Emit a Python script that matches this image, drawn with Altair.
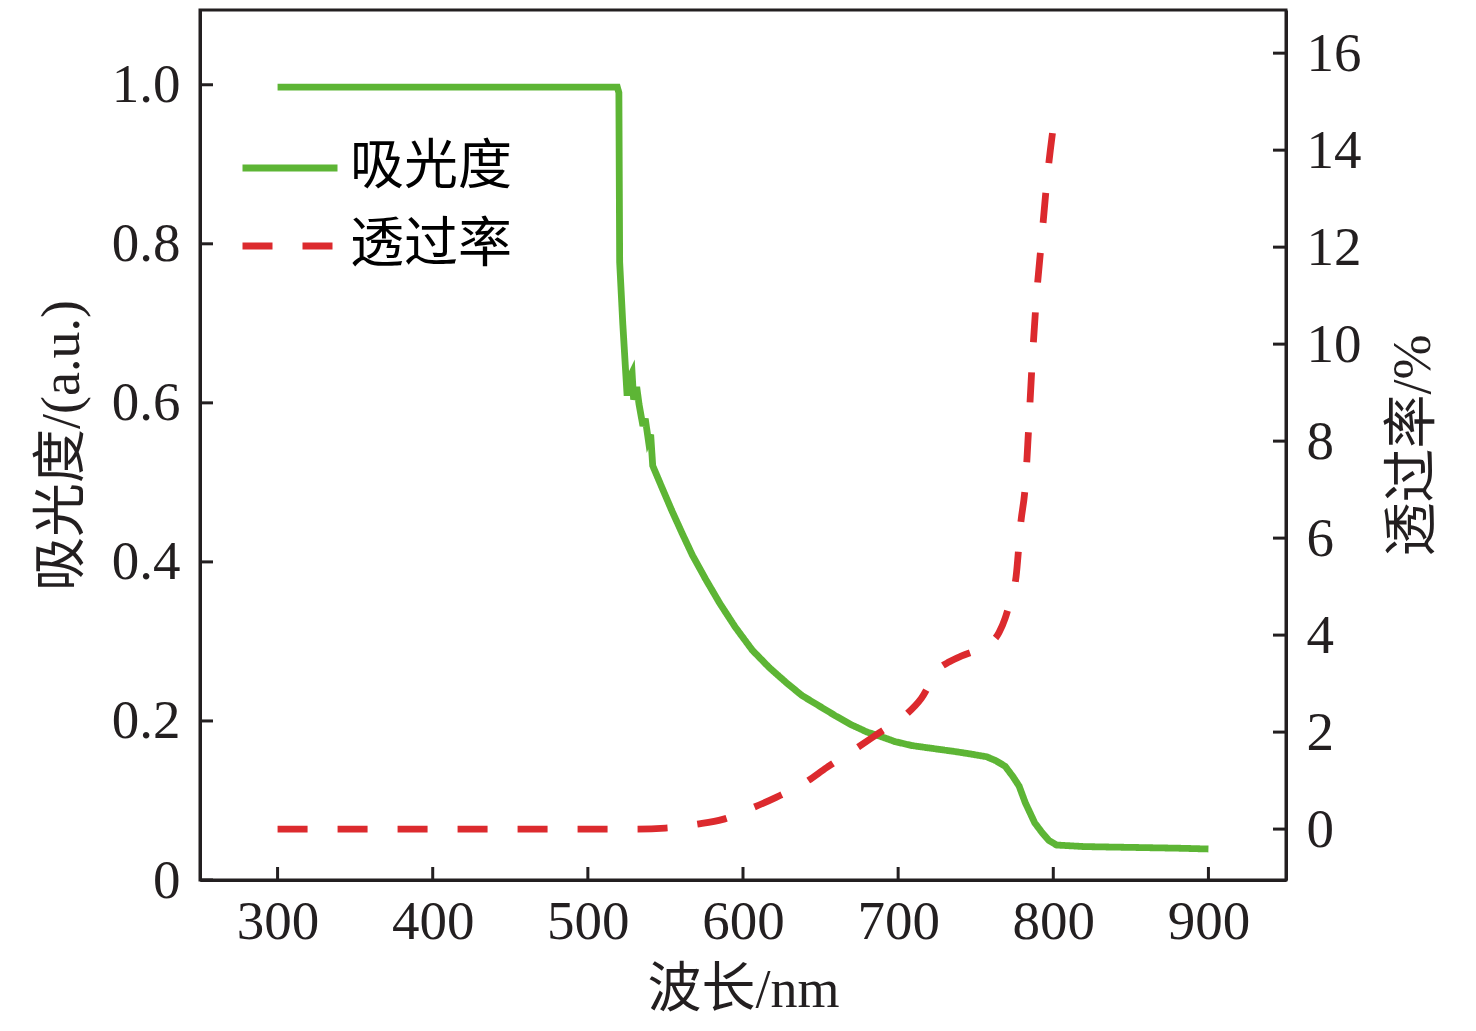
import altair as alt
import pandas as pd

# ---------------- data ----------------
wl_abs = [300, 519, 520, 520.5, 522.5, 525.3, 526.5, 528.5, 529.5, 531.5,
          533, 535.5, 537, 539, 540.5, 541.8, 547, 554, 561, 567.5,
          576, 585, 595, 606, 617, 628, 638, 649, 660, 670,
          680, 688, 698, 709, 720, 735, 745, 757, 763, 769,
          774, 778, 782, 788, 793, 797, 802, 820, 850, 880, 900]
absorbance = [0.997, 0.997, 0.99, 0.777, 0.70, 0.609, 0.63, 0.638, 0.604, 0.62,
              0.598, 0.571, 0.58, 0.553, 0.56, 0.521, 0.497, 0.465, 0.435, 0.408,
              0.378, 0.348, 0.318, 0.289, 0.267, 0.248, 0.232, 0.219, 0.206, 0.195,
              0.186, 0.181, 0.174, 0.169, 0.166, 0.162, 0.159, 0.155, 0.15, 0.143,
              0.13, 0.118, 0.097, 0.072, 0.059, 0.05, 0.044, 0.042, 0.041, 0.040, 0.039]

wl_trans = [300, 350, 400, 450, 500, 530, 550, 570, 587, 604,
            621, 641, 654, 670, 688, 705, 715, 726, 733, 741,
            750, 758, 765, 769, 773, 776, 779, 782, 784, 786,
            789, 792.6, 796, 800.5]
transmittance = [0, 0, 0, 0, 0, 0, 0.02, 0.1, 0.2, 0.41,
                 0.65, 0.98, 1.27, 1.6, 1.99, 2.36, 2.7, 3.3, 3.45, 3.57,
                 3.68, 3.8, 4.05, 4.35, 4.8, 5.2, 6.3, 7.1, 8.2, 9.4,
                 10.9, 12.2, 13.4, 14.6]

series_names = ["吸光度", "透过率"]
x_ticks = [300, 400, 500, 600, 700, 800, 900]
abs_ticks = [0, 0.2, 0.4, 0.6, 0.8, 1.0]
trans_ticks = [0, 2, 4, 6, 8, 10, 12, 14, 16]

# ---------------- styling ----------------
W, H = 1086, 870
INK = "#231f20"
GREEN = "#5db535"
RED = "#dc2a2e"
FONT = "Liberation Serif, Noto Sans CJK SC"
TICK = 13

df_abs = pd.DataFrame({"wl": wl_abs, "v": absorbance, "series": series_names[0]})
df_tr = pd.DataFrame({"wl": wl_trans, "v": transmittance, "series": series_names[1]})
df_xt = pd.DataFrame({"wl": x_ticks})
df_at = pd.DataFrame({"t": abs_ticks})
df_tt = pd.DataFrame({"t": trans_ticks})

xscale = alt.Scale(domain=[250, 950], nice=False, zero=False)
yl_scale = alt.Scale(domain=[0, 1.094], nice=False, zero=False)
yr_scale = alt.Scale(domain=[-1.05, 16.89], nice=False, zero=False)

legend = alt.Legend(
    title=None, orient="none", legendX=39, legendY=107,
    symbolType="stroke", symbolSize=9025, symbolStrokeWidth=7,
    labelFontSize=54, labelFont=FONT, labelColor="black", labelLimit=500,
    labelOffset=9, rowPadding=0, padding=0,
)
color = alt.Color("series:N",
                  scale=alt.Scale(domain=series_names, range=[GREEN, RED]),
                  legend=legend)
dash = alt.StrokeDash("series:N",
                      scale=alt.Scale(domain=series_names, range=[[1, 0], [30, 30]]),
                      legend=legend)

x_axis = alt.Axis(orient="bottom", values=x_ticks, title="波长/nm",
                  labelPadding=15, titlePadding=14)
x_enc = alt.X("wl:Q", scale=xscale, axis=x_axis)

green = alt.Chart(df_abs).mark_line(strokeWidth=6.8, interpolate="linear").encode(
    x=x_enc,
    y=alt.Y("v:Q", scale=yl_scale,
            axis=alt.Axis(orient="left", values=abs_ticks, title="吸光度/(a.u.)",
                          labelExpr="datum.value == 0 ? '0' : format(datum.value, '.1f')",
                          labelPadding=20, titlePadding=22)),
    color=color,
    strokeDash=dash,
)

red = alt.Chart(df_tr).mark_line(strokeWidth=6.8, interpolate="monotone").encode(
    x=x_enc,
    y=alt.Y("v:Q", scale=yr_scale,
            axis=alt.Axis(orient="right", values=trans_ticks, title="透过率/%",
                          labelPadding=20, titlePadding=25, titleAngle=270,
                          titleBaseline="top")),
    color=color,
    strokeDash=dash,
)

# inward tick marks
xt = alt.Chart(df_xt).mark_rule(color=INK, strokeWidth=3).encode(
    x=x_enc,
    y=alt.value(H - TICK), y2=alt.value(H),
)
lt = alt.Chart(df_at).mark_rule(color=INK, strokeWidth=3).encode(
    y=alt.Y("t:Q", scale=yl_scale, axis=None),
    x=alt.value(0), x2=alt.value(TICK),
)
rt = alt.Chart(df_tt).mark_rule(color=INK, strokeWidth=3).encode(
    y=alt.Y("t:Q", scale=yr_scale, axis=None),
    x=alt.value(W - TICK), x2=alt.value(W),
)

chart = alt.layer(green, red, lt, rt, xt).resolve_scale(y="independent").properties(
    width=W, height=H,
    autosize=alt.AutoSizeParams(type="none"),
    padding={"left": 192, "top": 2, "right": 175, "bottom": 140},
    background="white",
).configure_view(stroke=INK, strokeWidth=3).configure_axis(
    ticks=False, grid=False,
    labelFont=FONT, titleFont=FONT, labelFontSize=55, titleFontSize=54,
    labelColor=INK, titleColor=INK, titleFontWeight="normal",
    domainColor=INK, domainWidth=3,
)

chart.save("out.html", embed_options={"renderer": "svg", "actions": False})
